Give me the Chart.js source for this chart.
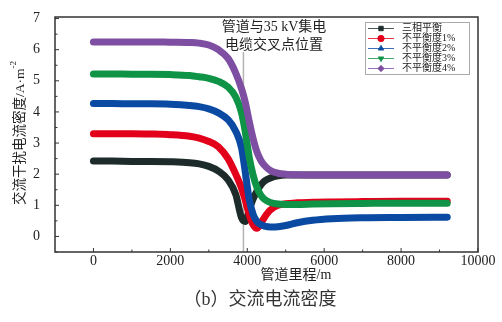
<!DOCTYPE html>
<html>
<head>
<meta charset="utf-8">
<script src="https://cdn.jsdelivr.net/npm/chart.js@4"></script>
<style>
  html, body { margin: 0; padding: 0; background: #fff; }
  #wrap { width: 502px; height: 322px; }
</style>
</head>
<body>
<div id="wrap"><canvas id="chart" width="502" height="322"></canvas></div>
<script>
// pipeline distance (m)
const distance = [0, 500, 1000, 1500, 2000, 2500, 2750, 3000, 3250, 3500, 3700, 3850, 3950, 4050, 4150, 4250, 4350, 4450, 4600, 4800, 5000, 5300, 5700, 6200, 7000, 8000, 9200];

// AC interference current density (A/m^2)
const balanced = [2.42, 2.42, 2.41, 2.41, 2.40, 2.37, 2.33, 2.25, 2.10, 1.82, 1.35, 0.60, 0.48, 0.85, 1.20, 1.45, 1.65, 1.78, 1.88, 1.95, 1.97, 1.97, 1.97, 1.97, 1.97, 1.97, 1.97];
const unbalance1 = [3.30, 3.30, 3.30, 3.29, 3.27, 3.22, 3.16, 3.05, 2.88, 2.50, 2.00, 1.55, 1.15, 0.70, 0.38, 0.26, 0.42, 0.62, 0.85, 1.00, 1.05, 1.08, 1.10, 1.11, 1.12, 1.13, 1.13];
const unbalance2 = [4.27, 4.27, 4.26, 4.26, 4.25, 4.21, 4.17, 4.10, 3.97, 3.75, 3.38, 2.85, 2.05, 1.20, 0.72, 0.48, 0.38, 0.33, 0.30, 0.31, 0.35, 0.44, 0.52, 0.57, 0.60, 0.61, 0.62];
const unbalance3 = [5.22, 5.22, 5.21, 5.21, 5.20, 5.17, 5.13, 5.08, 4.98, 4.80, 4.48, 3.98, 3.35, 2.55, 1.98, 1.58, 1.33, 1.19, 1.09, 1.04, 1.03, 1.03, 1.04, 1.05, 1.06, 1.07, 1.07];
const unbalance4 = [6.25, 6.25, 6.25, 6.25, 6.24, 6.23, 6.21, 6.15, 6.00, 5.72, 5.25, 4.75, 4.30, 3.70, 3.15, 2.72, 2.45, 2.28, 2.12, 2.03, 2.00, 1.98, 1.97, 1.97, 1.97, 1.97, 1.97];

const seriesNames = ["三相平衡", "不平衡度1%", "不平衡度2%", "不平衡度3%", "不平衡度4%"];
const seriesValues = [balanced, unbalance1, unbalance2, unbalance3, unbalance4];
const seriesColors = ["#1e2b2b", "#e2001a", "#0b4aa2", "#0f9346", "#7d4ea2"];
const seriesMarkers = [["rect", 0], ["circle", 0], ["triangle", 0], ["triangle", 180], ["rectRot", 0]];

const xTicks = [0, 2000, 4000, 6000, 8000, 10000];
const xMinor = [1000, 3000, 5000, 7000, 9000];
const yTicks = [0, 1, 2, 3, 4, 5, 6, 7];
const yMinor = [-0.5, 0.5, 1.5, 2.5, 3.5, 4.5, 5.5, 6.5];
const crossing = 3900;

const serif = '"Liberation Serif", "Noto Sans CJK SC", serif';

// later series drawn on top (purple over the rest)
const datasets = seriesValues.map((vals, i) => ({
    label: seriesNames[i],
    data: distance.map((d, k) => ({ x: d, y: vals[k] })),
    order: seriesValues.length - 1 - i,
    borderColor: seriesColors[i],
    borderWidth: 7,
    borderCapStyle: "round",
    borderJoinStyle: "round",
    pointRadius: 0,
    cubicInterpolationMode: "monotone",
    fill: false
}));

// frame, inward ticks, crossing line, notes, legend, titles
const decor = {
    id: "decor",
    beforeDatasetsDraw(chart) {
        const { ctx, chartArea: a, scales: { x } } = chart;
        ctx.save();
        const cx = x.getPixelForValue(crossing);
        ctx.strokeStyle = "#b3b3b3";
        ctx.lineWidth = 1.5;
        ctx.beginPath();
        ctx.moveTo(cx, 52);
        ctx.lineTo(cx, a.bottom);
        ctx.stroke();
        ctx.restore();
    },
    afterDraw(chart) {
        const { ctx, chartArea: a, scales: { x, y } } = chart;
        ctx.save();
        ctx.strokeStyle = "#333";
        ctx.lineWidth = 1.5;
        ctx.strokeRect(a.left, a.top, a.right - a.left, a.bottom - a.top);

        ctx.lineWidth = 1;
        ctx.beginPath();
        xTicks.forEach(v => { const p = x.getPixelForValue(v); ctx.moveTo(p, a.bottom); ctx.lineTo(p, a.bottom - 4); });
        xMinor.forEach(v => { const p = x.getPixelForValue(v); ctx.moveTo(p, a.bottom); ctx.lineTo(p, a.bottom - 2.5); });
        yTicks.forEach(v => { const p = y.getPixelForValue(v); ctx.moveTo(a.left, p); ctx.lineTo(a.left + 4, p); });
        yMinor.forEach(v => { const p = y.getPixelForValue(v); ctx.moveTo(a.left, p); ctx.lineTo(a.left + 2.5, p); });
        ctx.stroke();

        // crossing note
        ctx.fillStyle = "#222";
        ctx.font = "14px " + serif;
        ctx.textAlign = "center";
        ctx.textBaseline = "middle";
        ctx.fillText("管道与35 kV集电", 274, 27);
        ctx.fillText("电缆交叉点位置", 274, 45);

        // legend
        ctx.fillStyle = "#fff";
        ctx.fillRect(365, 22, 104, 52);
        ctx.strokeStyle = "#aaa";
        ctx.lineWidth = 1;
        ctx.strokeRect(365.5, 22.5, 104, 52);
        ctx.font = "10px " + serif;
        ctx.textAlign = "left";
        seriesNames.forEach((name, i) => {
            const ly = 28.5 + i * 10;
            ctx.strokeStyle = seriesColors[i];
            ctx.lineWidth = 0.8;
            ctx.beginPath();
            ctx.moveTo(368, ly);
            ctx.lineTo(394, ly);
            ctx.stroke();
            ctx.fillStyle = seriesColors[i];
            Chart.helpers.drawPoint(ctx, {
                pointStyle: seriesMarkers[i][0],
                rotation: seriesMarkers[i][1],
                radius: 3.2,
                borderWidth: 0.5
            }, 381, ly);
            ctx.fillStyle = "#222";
            ctx.fillText(name, 402, ly);
        });

        // axis titles
        ctx.fillStyle = "#222";
        ctx.font = "14px " + serif;
        ctx.textAlign = "center";
        ctx.fillText("管道里程/m", 296, 275);

        ctx.save();
        ctx.translate(20, 133);
        ctx.rotate(-Math.PI / 2);
        ctx.font = "13.5px " + serif;
        const main = "交流干扰电流密度/A·m";
        const wMain = ctx.measureText(main).width;
        ctx.font = "9px " + serif;
        const wSup = ctx.measureText("-2").width;
        const start = -(wMain + wSup) / 2;
        ctx.textAlign = "left";
        ctx.font = "13.5px " + serif;
        ctx.fillText(main, start, 0);
        ctx.font = "9px " + serif;
        ctx.fillText("-2", start + wMain, -6);
        ctx.restore();

        // caption
        ctx.fillStyle = "#333";
        ctx.font = "18px " + serif;
        ctx.textAlign = "center";
        ctx.fillText("（b）交流电流密度", 260, 300);
        ctx.restore();
    }
};

new Chart(document.getElementById("chart"), {
    type: "line",
    data: { datasets: datasets },
    options: {
        responsive: false,
        devicePixelRatio: 1,
        animation: false,
        layout: { padding: { left: 0, top: 17, right: 24, bottom: 0 } },
        plugins: { legend: { display: false }, tooltip: { enabled: false } },
        scales: {
            x: {
                type: "linear",
                min: -1000,
                max: 10000,
                afterBuildTicks: s => { s.ticks = xTicks.map(v => ({ value: v })); },
                afterFit: s => { s.height = 70; },
                grid: { display: false },
                border: { display: false },
                ticks: {
                    autoSkip: false,
                    maxRotation: 0,
                    padding: -7,
                    color: "#222",
                    font: { family: serif, size: 14 },
                    callback: v => String(v)
                }
            },
            y: {
                type: "linear",
                min: -0.5,
                max: 7.05,
                afterBuildTicks: s => { s.ticks = yTicks.map(v => ({ value: v })); },
                afterFit: s => { s.width = 55; },
                grid: { display: false },
                border: { display: false },
                ticks: {
                    padding: 7,
                    color: "#222",
                    font: { family: serif, size: 14 },
                    callback: v => String(v)
                }
            }
        }
    },
    plugins: [decor]
});
</script>
</body>
</html>
